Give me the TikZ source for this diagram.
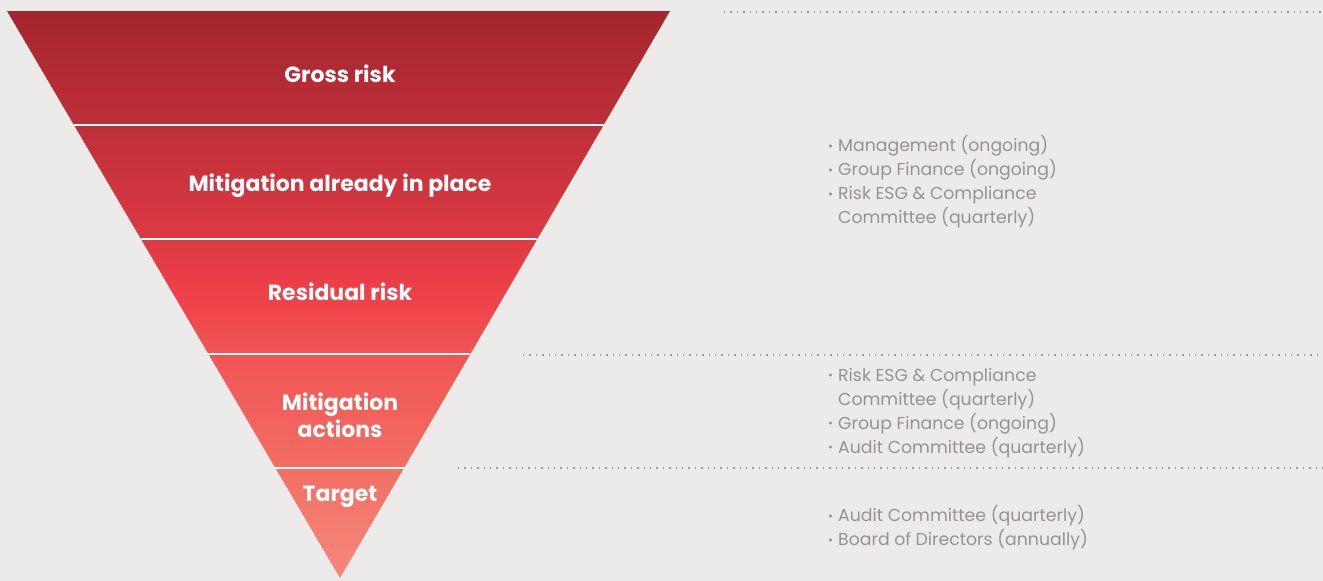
\documentclass[tikz,border=0pt]{standalone}
\usepackage{fontspec}
\setmainfont{Poppins}
\usetikzlibrary{calc}

\definecolor{bggrey}{HTML}{EDEBE9}
\definecolor{txtgrey}{HTML}{979290}
\definecolor{dotgrey}{HTML}{9E9896}
\definecolor{funA}{HTML}{A4262E}
\definecolor{funB}{HTML}{BE2F38}
\definecolor{funC}{HTML}{DC3A44}
\definecolor{funD}{HTML}{EE4049}
\definecolor{funE}{HTML}{F05454}
\definecolor{funF}{HTML}{F36E63}
\definecolor{funG}{HTML}{F5897C}

\pgfdeclareverticalshading{funnel}{100bp}{color(0bp)=(funG); color(25bp)=(funG); color(34.7bp)=(funF); color(44.75bp)=(funE); color(50.2bp)=(funD); color(54.9bp)=(funC); color(64.9bp)=(funB); color(75bp)=(funA); color(100bp)=(funA)}

\newcommand{\dutybul}{\makebox[10pt][l]{\fontsize{12}{12}\selectfont\raisebox{0.12em}{•}}}
\newcommand{\dutyind}{\hspace*{10pt}}

\tikzset{
  band/.style={text=white, font=\bfseries\fontsize{22}{27}\selectfont, align=center},
  duty/.style={text=txtgrey, font=\fontsize{17.3}{24}\selectfont, align=left, anchor=west, inner sep=0pt},
  sep/.style={white, line width=2pt},
  rule/.style={dotgrey, line width=1.4pt, dash pattern=on 1.4pt off 5pt}
}

\begin{document}
\begin{tikzpicture}[x=1pt, y=-1pt]
  % Background and page size
  \fill[bggrey] (0,0) rectangle (1323,581);
  \useasboundingbox (0,0) rectangle (1323,581);
  % Define named coordinates
  \coordinate (tl) at (7,11);
  \coordinate (tr) at (670,11);
  \coordinate (apex) at (340,578);
  % Draw the funnel
  \shade[shading=funnel] (tl) -- (tr) -- (apex) -- cycle;
  % Draw the band separators
  \foreach \t in {0.2011,0.4021,0.6049,0.806}
  {
    \draw[sep] ($(tl)!\t!(apex)$) -- ($(tr)!\t!(apex)$);
  }
  % Label the bands
  \node[band] (gross) at (340,74) {Gross risk};
  \node[band] (mitig) at (340,186) {Mitigation already in place};
  \node[band] (resid) at (340,292) {Residual risk};
  \node[band] (action) at (340,415) {Mitigation\\actions};
  \node[band] (target) at (340,497) {Target};
  % Dotted rules on the right
  \coordinate (ruleA) at (724,12);
  \coordinate (ruleB) at (523,355);
  \coordinate (ruleC) at (458,468);
  \draw[rule] (ruleA) -- (1323,12);
  \draw[rule] (ruleB) -- (1323,355);
  \draw[rule] (ruleC) -- (1323,468);
  % Who oversees each stage
  \node[duty] (dutyA) at (828,182) {\dutybul Management (ongoing)\\\dutybul Group Finance (ongoing)\\\dutybul Risk ESG \& Compliance\\\dutyind Committee (quarterly)};
  \node[duty] (dutyB) at (828,413) {\dutybul Risk ESG \& Compliance\\\dutyind Committee (quarterly)\\\dutybul Group Finance (ongoing)\\\dutybul Audit Committee (quarterly)};
  \node[duty] (dutyC) at (828,528) {\dutybul Audit Committee (quarterly)\\\dutybul Board of Directors (annually)};
\end{tikzpicture}
\end{document}
